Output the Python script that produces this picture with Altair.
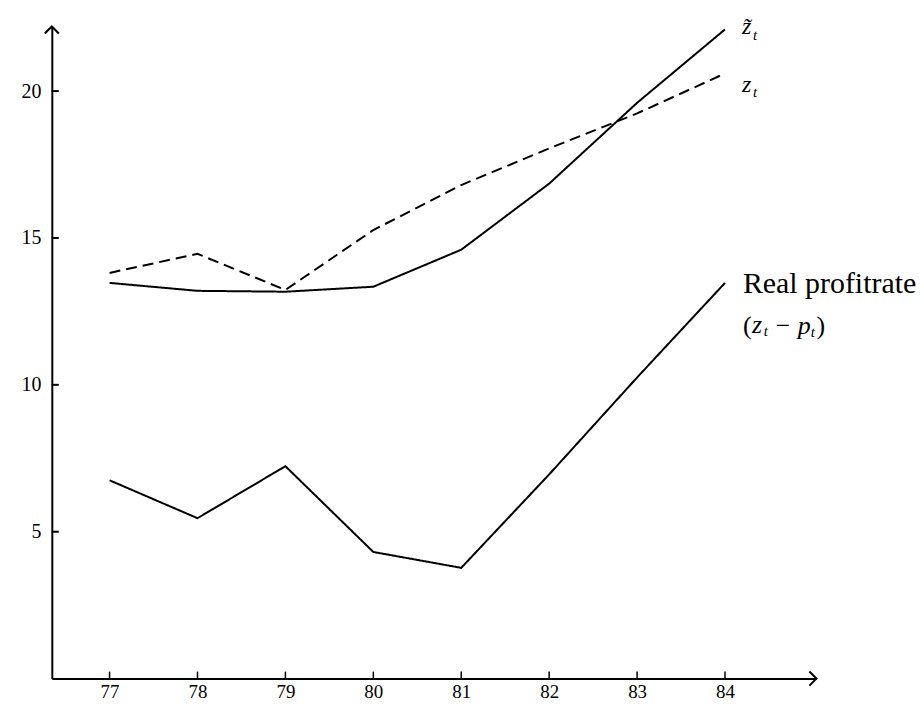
import altair as alt
import pandas as pd

# ---- data ----
years = [77, 78, 79, 80, 81, 82, 83, 84]
z_tilde = [13.47, 13.2, 13.17, 13.34, 14.6, 16.85, 19.6, 22.1]      # solid, upper
z_plain = [13.81, 14.46, 13.23, 15.27, 16.8, 18.05, 19.24, 20.6]    # dashed
real_profit = [6.75, 5.46, 7.23, 4.31, 3.77, 6.95, 10.25, 13.47]   # solid, lower
series_names = ["z_tilde", "z", "real"]
y_ticks = [5, 10, 15, 20]

X_MIN, X_MAX = 76.343, 85.04
Y_MIN, Y_MAX = 0, 22.2
W, H = 768, 655
FONT = "Liberation Serif"

rows = []
for name, vals in zip(series_names, [z_tilde, z_plain, real_profit]):
    for yr, v in zip(years, vals):
        rows.append({"year": yr, "value": v, "series": name})
df = pd.DataFrame(rows)

xs = alt.Scale(domain=[X_MIN, X_MAX], nice=False, zero=False)
ys = alt.Scale(domain=[Y_MIN, Y_MAX], nice=False, zero=False)
x_axis = alt.Axis(values=years, format="d", title=None, ticks=False,
                  tickSize=0, labelPadding=4, grid=False, labelFontSize=19)
y_axis = alt.Axis(values=y_ticks, title=None, ticks=False,
                  tickSize=0, labelPadding=11, grid=False, labelFontSize=20)


def X():
    return alt.X("year:Q", scale=xs, axis=x_axis)


def Y():
    return alt.Y("value:Q", scale=ys, axis=y_axis)


lines = alt.Chart(df).mark_line(color="black", strokeWidth=2).encode(
    x=X(), y=Y(),
    detail="series:N",
    strokeDash=alt.StrokeDash("series:N",
                              scale=alt.Scale(domain=series_names,
                                              range=[[1, 0], [11, 6], [1, 0]]),
                              legend=None),
)

# inward tick marks
yticks = alt.Chart(pd.DataFrame({"value": y_ticks})).mark_rule(
    color="black", strokeWidth=2).encode(
    y=Y(), x=alt.value(0), x2=alt.value(7),
)
xticks = alt.Chart(pd.DataFrame({"year": years})).mark_rule(
    color="black", strokeWidth=1.5).encode(
    x=X(), y=alt.value(H), y2=alt.value(H - 7),
)

# arrow heads at the axis ends
arr_r = alt.Chart(pd.DataFrame({"year": [X_MAX], "value": [Y_MIN]})).mark_point(
    shape="M-1,-1L0,0L-1,1", size=200, filled=False, strokeWidth=2,
    color="black", opacity=1
).encode(x=X(), y=Y())
arr_u = alt.Chart(pd.DataFrame({"year": [X_MIN], "value": [Y_MAX]})).mark_point(
    shape="M-1,1L0,0L1,1", size=200, filled=False, strokeWidth=2,
    color="black", opacity=1
).encode(x=X(), y=Y())


# series labels
def label(text, x, y, dx, dy, size=17, style="normal", align="left"):
    return alt.Chart(pd.DataFrame({"year": [x], "value": [y], "t": [text]})).mark_text(
        font=FONT, fontSize=size, fontStyle=style, align=align,
        baseline="middle", dx=dx, dy=dy, color="black"
    ).encode(x=X(), y=Y(), text="t:N")


e = years[-1]
labels = [
    label("z\u0303", e, z_tilde[-1], 17, -2, size=24, style="italic"),
    label("t", e, z_tilde[-1], 28, 6, size=15, style="italic"),
    label("z", e, z_plain[-1], 17, 12, size=24, style="italic"),
    label("t", e, z_plain[-1], 28, 19, size=15, style="italic"),
    label("Real profitrate", e, real_profit[-1], 18, 1, size=30),
    label("(", e, real_profit[-1], 18, 43, size=26),
    label("z", e, real_profit[-1], 27, 42, size=26, style="italic"),
    label("t", e, real_profit[-1], 39, 48, size=15, style="italic"),
    label("\u2212", e, real_profit[-1], 51, 43, size=26),
    label("p", e, real_profit[-1], 73, 43, size=26, style="italic"),
    label("t", e, real_profit[-1], 86, 49, size=15, style="italic"),
    label(")", e, real_profit[-1], 92, 43, size=26),
]

chart = alt.layer(lines, yticks, xticks, arr_r, arr_u, *labels).properties(
    width=W, height=H,
    autosize=alt.AutoSizeParams(type="none"),
    padding={"left": 44, "top": 17, "right": 100, "bottom": 25},
    background="white",
).configure_view(stroke=None).configure_axis(
    domainColor="black", domainWidth=2, labelColor="black",
    labelFont=FONT,
)

chart.save("out.html", embed_options={"renderer": "svg", "actions": False})
